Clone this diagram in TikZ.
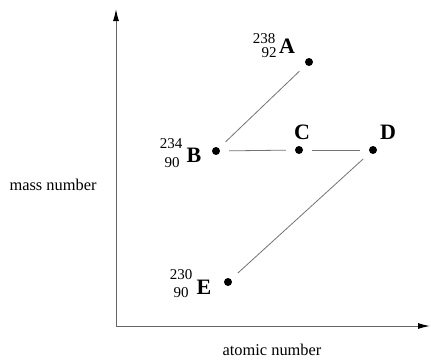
\documentclass[tikz,border=0pt]{standalone}
\usepackage{fontspec}
\setmainfont{Liberation Serif}
\usetikzlibrary{arrows.meta}
\begin{document}
\begin{tikzpicture}[x=1pt,y=-1pt,
  dot/.style={circle,fill=black,inner sep=0pt,minimum size=8pt},
  letter/.style={inner sep=0pt,font=\fontsize{22}{22}\selectfont\bfseries},
  num/.style={inner sep=0pt,font=\fontsize{15}{15}\selectfont},
  axlab/.style={inner sep=0pt,font=\fontsize{16.4}{16.4}\selectfont},
  link/.style={draw=black!55,line width=0.8pt,shorten >=9pt,shorten <=9pt},
  axis/.style={draw=black!60,line width=1pt,-{Latex[length=12pt,width=6pt,black]}}]
\useasboundingbox (0,0) rectangle (431,360);
\coordinate (O) at (116,326);
\coordinate (ytip) at (116,9);
\coordinate (xtip) at (430,326);
\draw[axis] (O) -- (ytip);
\draw[axis] (O) -- (xtip);
\node[axlab] (ylab) at (53,185) {mass number};
\node[axlab] (xlab) at (272,350) {atomic number};
\node[dot] (A) at (309,62) {};
\node[dot] (B) at (216,151) {};
\node[dot] (C) at (299,150) {};
\node[dot] (D) at (373,150) {};
\node[dot] (E) at (228,282) {};
\draw[link] (A) -- (B);
\draw[link] (B) -- (C);
\draw[link] (C) -- (D);
\draw[link] (D) -- (E);
\node[letter] (Al) at (287,46) {A};
\node[num] (Am) at (264,39) {238};
\node[num] (Az) at (269,53) {92};
\node[letter] (Bl) at (194,155) {B};
\node[num] (Bm) at (171,144) {234};
\node[num] (Bz) at (172,163) {90};
\node[letter] (Cl) at (302,132) {C};
\node[letter] (Dl) at (388,132) {D};
\node[letter] (El) at (204,287) {E};
\node[num] (Em) at (181,275) {230};
\node[num] (Ez) at (181,293) {90};
\end{tikzpicture}
\end{document}
